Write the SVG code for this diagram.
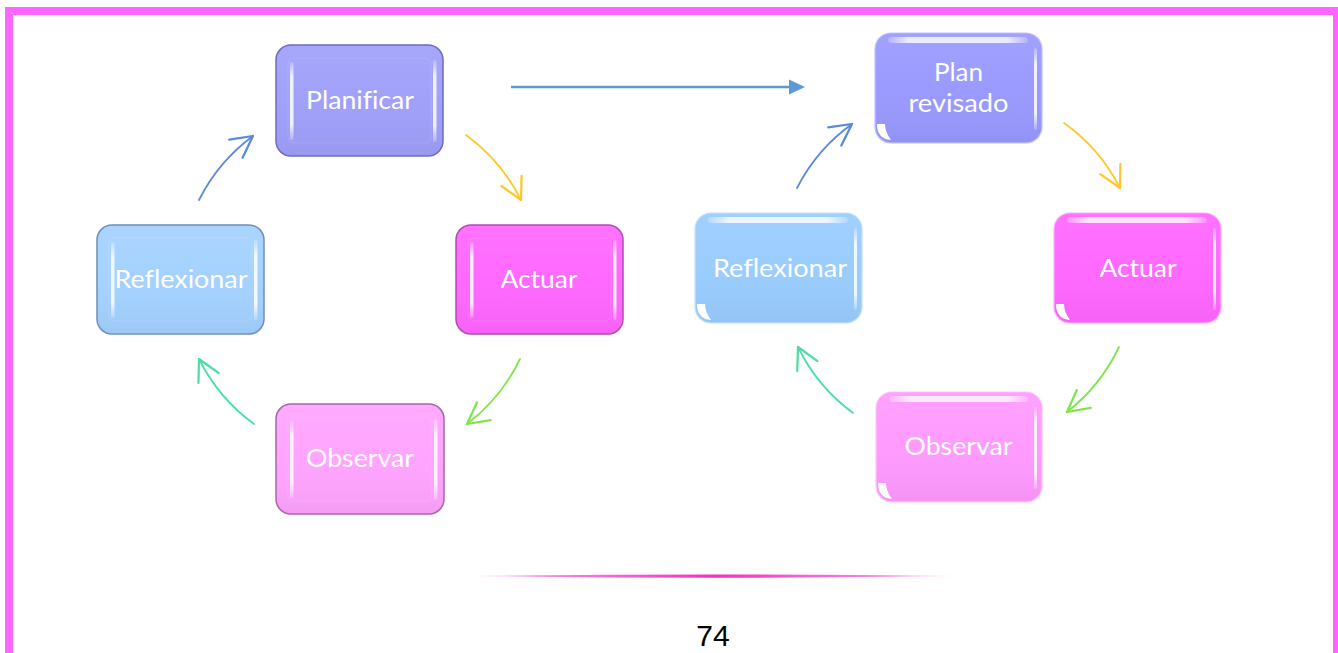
<svg xmlns="http://www.w3.org/2000/svg" width="1338" height="653" viewBox="0 0 1338 653">
<style>
.lbl{font-family:Lato,"Open Sans","Liberation Sans",sans-serif;font-size:25px;fill:#ffffff;text-anchor:middle;font-variant-ligatures:none;font-feature-settings:"liga" 0}
.pg{font-family:"Liberation Sans",Arial,sans-serif;font-size:30px;fill:#000000;text-anchor:middle}
.arc{fill:none;stroke-width:1.8;stroke-linecap:round}
.hl{fill:#ffffff}
</style>
<defs>
<linearGradient id="gloss" x1="0" y1="0" x2="0" y2="1">
<stop offset="0" stop-color="#ffffff" stop-opacity="0.08"/>
<stop offset="0.5" stop-color="#ffffff" stop-opacity="0.02"/>
<stop offset="1" stop-color="#000000" stop-opacity="0.04"/>
</linearGradient>
<linearGradient id="topHl" x1="0" y1="0" x2="1" y2="0">
<stop offset="0" stop-color="#ffffff" stop-opacity="0.2"/>
<stop offset="0.15" stop-color="#ffffff" stop-opacity="0.8"/>
<stop offset="0.85" stop-color="#ffffff" stop-opacity="0.8"/>
<stop offset="1" stop-color="#ffffff" stop-opacity="0.2"/>
</linearGradient>
<linearGradient id="sideHl" x1="0" y1="0" x2="0" y2="1">
<stop offset="0" stop-color="#ffffff" stop-opacity="0.2"/>
<stop offset="0.2" stop-color="#ffffff" stop-opacity="0.85"/>
<stop offset="0.8" stop-color="#ffffff" stop-opacity="0.85"/>
<stop offset="1" stop-color="#ffffff" stop-opacity="0.2"/>
</linearGradient>
<linearGradient id="pinkLine" x1="0" y1="0" x2="1" y2="0">
<stop offset="0" stop-color="#F030C8" stop-opacity="0"/>
<stop offset="0.15" stop-color="#F030C8" stop-opacity="0.55"/>
<stop offset="0.5" stop-color="#F030C8" stop-opacity="1"/>
<stop offset="0.85" stop-color="#F030C8" stop-opacity="0.55"/>
<stop offset="1" stop-color="#F030C8" stop-opacity="0"/>
</linearGradient>
<marker id="openBlue" markerUnits="userSpaceOnUse" markerWidth="30" markerHeight="30" refX="0" refY="0" viewBox="-20 -12 22 24" orient="auto" overflow="visible">
<path d="M-17,-9 L0,0 L-17,9" fill="none" stroke="#5A8AD6" stroke-width="1.8" stroke-linecap="round" stroke-linejoin="round"/>
</marker>
<marker id="openYellow" markerUnits="userSpaceOnUse" markerWidth="30" markerHeight="30" refX="0" refY="0" viewBox="-20 -12 22 24" orient="auto" overflow="visible">
<path d="M-17,-9 L0,0 L-17,9" fill="none" stroke="#FFC72C" stroke-width="1.8" stroke-linecap="round" stroke-linejoin="round"/>
</marker>
<marker id="openGreen" markerUnits="userSpaceOnUse" markerWidth="30" markerHeight="30" refX="0" refY="0" viewBox="-20 -12 22 24" orient="auto" overflow="visible">
<path d="M-17,-9 L0,0 L-17,9" fill="none" stroke="#7EE64A" stroke-width="1.8" stroke-linecap="round" stroke-linejoin="round"/>
</marker>
<marker id="openTeal" markerUnits="userSpaceOnUse" markerWidth="30" markerHeight="30" refX="0" refY="0" viewBox="-20 -12 22 24" orient="auto" overflow="visible">
<path d="M-17,-9 L0,0 L-17,9" fill="none" stroke="#4FDDA4" stroke-width="1.8" stroke-linecap="round" stroke-linejoin="round"/>
</marker>
</defs>

<rect x="0" y="0" width="1338" height="653" fill="#ffffff"/>
<rect id="frame" x="9" y="11" width="1328" height="700" fill="none" stroke="#FF66FF" stroke-width="8"/>

<!-- Left cycle nodes -->
<g id="n-planificar">
<rect x="276" y="45" width="167" height="111" rx="15" fill="#9F9FFA" stroke="#6C6CC2" stroke-width="1.5"/>
<rect x="277" y="46" width="165" height="109" rx="14" fill="url(#gloss)"/>
<rect x="288" y="58" width="143" height="85" rx="6" fill="none" stroke="#ffffff" stroke-opacity="0.12"/>
<rect x="290" y="62" width="3.5" height="78" rx="1.5" fill="url(#sideHl)"/>
<rect x="433" y="60" width="3.5" height="82" rx="1.5" fill="url(#sideHl)"/>
<text class="lbl" x="360" y="109" textLength="108" lengthAdjust="spacingAndGlyphs">Planificar</text>
</g>
<g id="n-actuar-1">
<rect x="456" y="225" width="167" height="109" rx="15" fill="#FF66FF" stroke="#B24AB2" stroke-width="1.5"/>
<rect x="457" y="226" width="165" height="107" rx="14" fill="url(#gloss)"/>
<rect x="468" y="238" width="143" height="83" rx="6" fill="none" stroke="#ffffff" stroke-opacity="0.12"/>
<rect x="470" y="242" width="3.5" height="76" rx="1.5" fill="url(#sideHl)"/>
<rect x="613" y="240" width="3.5" height="80" rx="1.5" fill="url(#sideHl)"/>
<text class="lbl" x="539" y="288" textLength="77" lengthAdjust="spacingAndGlyphs">Actuar</text>
</g>
<g id="n-observar-1">
<rect x="276" y="404" width="168" height="110" rx="15" fill="#FFA3FF" stroke="#A865A8" stroke-width="1.5"/>
<rect x="277" y="405" width="166" height="108" rx="14" fill="url(#gloss)"/>
<rect x="288" y="417" width="144" height="84" rx="6" fill="none" stroke="#ffffff" stroke-opacity="0.12"/>
<rect x="290" y="421" width="3.5" height="77" rx="1.5" fill="url(#sideHl)"/>
<rect x="434" y="419" width="3.5" height="81" rx="1.5" fill="url(#sideHl)"/>
<text class="lbl" x="360" y="467" textLength="108" lengthAdjust="spacingAndGlyphs">Observar</text>
</g>
<g id="n-reflexionar-1">
<rect x="97" y="225" width="167" height="109" rx="15" fill="#A3D1FF" stroke="#6E90B4" stroke-width="1.5"/>
<rect x="98" y="226" width="165" height="107" rx="14" fill="url(#gloss)"/>
<rect x="109" y="238" width="143" height="83" rx="6" fill="none" stroke="#ffffff" stroke-opacity="0.12"/>
<rect x="111" y="242" width="3.5" height="76" rx="1.5" fill="url(#sideHl)"/>
<rect x="254" y="240" width="3.5" height="80" rx="1.5" fill="url(#sideHl)"/>
<text class="lbl" x="181" y="288" textLength="133" lengthAdjust="spacingAndGlyphs">Reflexionar</text>
</g>

<!-- Right cycle nodes -->
<g id="n-plan-revisado">
<rect x="875" y="33" width="167" height="110" rx="16" fill="#9999FF" stroke="#C4C4FF" stroke-width="1.2"/>
<rect x="876" y="34" width="165" height="108" rx="15" fill="url(#gloss)"/>
<rect x="888" y="37" width="140" height="6" rx="3" fill="url(#topHl)"/>
<rect x="1034" y="48" width="3" height="82" rx="1.5" fill="url(#sideHl)"/>
<path d="M877,124 Q877,139 891,140 Q885,132 885,124 Z" class="hl"/>
<text class="lbl" x="958.5" y="81" textLength="49" lengthAdjust="spacingAndGlyphs">Plan</text>
<text class="lbl" x="958.5" y="112" textLength="100" lengthAdjust="spacingAndGlyphs">revisado</text>
</g>
<g id="n-actuar-2">
<rect x="1054" y="213" width="167" height="110" rx="16" fill="#FF66FF" stroke="#FFB0FF" stroke-width="1.2"/>
<rect x="1055" y="214" width="165" height="108" rx="15" fill="url(#gloss)"/>
<rect x="1067" y="217" width="140" height="6" rx="3" fill="url(#topHl)"/>
<rect x="1213" y="228" width="3" height="82" rx="1.5" fill="url(#sideHl)"/>
<path d="M1056,304 Q1056,319 1070,320 Q1064,312 1064,304 Z" class="hl"/>
<text class="lbl" x="1138" y="277" textLength="77" lengthAdjust="spacingAndGlyphs">Actuar</text>
</g>
<g id="n-observar-2">
<rect x="876" y="392" width="166" height="110" rx="16" fill="#FF99FF" stroke="#FFC4FF" stroke-width="1.2"/>
<rect x="877" y="393" width="164" height="108" rx="15" fill="url(#gloss)"/>
<rect x="889" y="396" width="139" height="6" rx="3" fill="url(#topHl)"/>
<rect x="1034" y="407" width="3" height="82" rx="1.5" fill="url(#sideHl)"/>
<path d="M878,483 Q878,498 892,499 Q886,491 886,483 Z" class="hl"/>
<text class="lbl" x="958.5" y="455" textLength="108" lengthAdjust="spacingAndGlyphs">Observar</text>
</g>
<g id="n-reflexionar-2">
<rect x="695" y="213" width="167" height="110" rx="16" fill="#99CCFF" stroke="#C4E2FF" stroke-width="1.2"/>
<rect x="696" y="214" width="165" height="108" rx="15" fill="url(#gloss)"/>
<rect x="708" y="217" width="140" height="6" rx="3" fill="url(#topHl)"/>
<rect x="854" y="228" width="3" height="82" rx="1.5" fill="url(#sideHl)"/>
<path d="M697,304 Q697,319 711,320 Q705,312 705,304 Z" class="hl"/>
<text class="lbl" x="780" y="277" textLength="134" lengthAdjust="spacingAndGlyphs">Reflexionar</text>
</g>

<!-- Connectors -->
<g id="connectors">
<line x1="511" y1="87" x2="790" y2="87" stroke="#5B9BD5" stroke-width="2.5"/>
<path d="M805,87 L789,79.5 L789,94.5 Z" fill="#5B9BD5"/>

<path class="arc" stroke="#5A8AD6" marker-end="url(#openBlue)" d="M199,200 A180,180 0 0 1 253,136"/>
<path class="arc" stroke="#FFC72C" marker-end="url(#openYellow)" d="M466,135 A180,180 0 0 1 521,200"/>
<path class="arc" stroke="#7EE64A" marker-end="url(#openGreen)" d="M520,359 A180,180 0 0 1 467,424"/>
<path class="arc" stroke="#4FDDA4" marker-end="url(#openTeal)" d="M254,424 A180,180 0 0 1 199,359"/>

<path class="arc" stroke="#5A8AD6" marker-end="url(#openBlue)" d="M797,188 A180,180 0 0 1 852,124"/>
<path class="arc" stroke="#FFC72C" marker-end="url(#openYellow)" d="M1064,123 A180,180 0 0 1 1120,188"/>
<path class="arc" stroke="#7EE64A" marker-end="url(#openGreen)" d="M1119,347 A180,180 0 0 1 1067,412"/>
<path class="arc" stroke="#4FDDA4" marker-end="url(#openTeal)" d="M853,413 A180,180 0 0 1 798,347"/>
</g>

<path id="divider" d="M462,576 Q713,573 964,576 Q713,579.5 462,576 Z" fill="url(#pinkLine)"/>
<text class="pg" x="713" y="646">74</text>
</svg>
